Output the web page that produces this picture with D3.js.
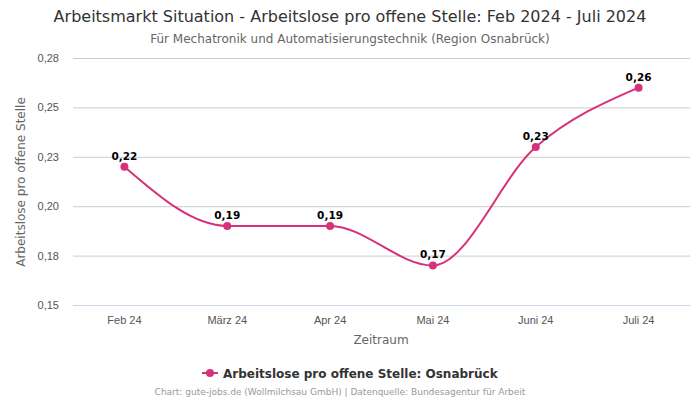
<!DOCTYPE html>
<html><head><meta charset="utf-8">
<script src="https://cdn.jsdelivr.net/npm/d3@7"></script>
<style>body{margin:0;background:#fff}svg{font-family:"DejaVu Sans",sans-serif}</style>
</head><body><svg id="c" width="700" height="400"></svg>
<script>
const categories = ["Feb 24","März 24","Apr 24","Mai 24","Juni 24","Juli 24"];
const values = [0.22, 0.19, 0.19, 0.17, 0.23, 0.26];
const yTicks = [0.15, 0.175, 0.2, 0.225, 0.25, 0.275];
const title = "Arbeitsmarkt Situation - Arbeitslose pro offene Stelle: Feb 2024 - Juli 2024";
const subtitle = "Für Mechatronik und Automatisierungstechnik (Region Osnabrück)";
const seriesName = "Arbeitslose pro offene Stelle: Osnabrück";
const color = "#d6317a";

const svg = d3.select("#c");
const m = {l:73, r:690, t:58, b:305};
const x = d3.scaleBand().domain(categories).range([m.l, m.r]);
const y = d3.scaleLinear().domain([0.15, 0.275]).range([m.b, m.t]);
const fmt = v => (Math.round(v*100 + 1e-6)/100).toFixed(2).replace(".", ",");

svg.append("text").attr("x",350).attr("y",22).attr("text-anchor","middle").attr("font-size",16).attr("fill","#333").text(title);
svg.append("text").attr("x",350).attr("y",43).attr("text-anchor","middle").attr("font-size",12).attr("fill","#666").text(subtitle);

const ya = svg.append("g").attr("transform",`translate(${m.l},0)`)
  .call(d3.axisLeft(y).tickValues(yTicks).tickSize(-(m.r-m.l)).tickFormat(fmt));
ya.select(".domain").remove();
ya.selectAll(".tick line").attr("stroke","#ccc");
ya.selectAll(".tick text").attr("x",-14).attr("font-size",11).attr("fill","#555");

const xa = svg.append("g").attr("transform",`translate(0,${m.b})`)
  .call(d3.axisBottom(x).tickSize(0).tickPadding(11));
xa.select(".domain").attr("stroke","#ccd6eb");
xa.selectAll(".tick text").attr("font-size",11).attr("fill","#555");

svg.append("text").attr("transform","translate(25,182) rotate(-90)").attr("text-anchor","middle").attr("font-size",12).attr("fill","#666").text("Arbeitslose pro offene Stelle");
svg.append("text").attr("x",381).attr("y",344).attr("text-anchor","middle").attr("font-size",12).attr("fill","#666").text("Zeitraum");

const pts = categories.map((c,i)=>[x(c)+x.bandwidth()/2, y(values[i])]);
svg.append("path").attr("d", d3.line().curve(d3.curveMonotoneX)(pts)).attr("fill","none").attr("stroke",color).attr("stroke-width",2);
svg.selectAll("circle.p").data(pts).join("circle").attr("class","p").attr("cx",d=>d[0]).attr("cy",d=>d[1]).attr("r",4).attr("fill",color);
svg.selectAll("text.l").data(pts).join("text").attr("class","l").attr("x",d=>d[0]).attr("y",d=>d[1]-7)
  .attr("text-anchor","middle").attr("font-size",10.5).attr("font-weight","bold").attr("fill","#000")
  .text((d,i)=>fmt(values[i]));

const lg = svg.append("g");
lg.append("line").attr("x1",202).attr("x2",218).attr("y1",373).attr("y2",373).attr("stroke",color).attr("stroke-width",2);
lg.append("circle").attr("cx",210).attr("cy",373).attr("r",4).attr("fill",color);
lg.append("text").attr("x",223).attr("y",377.5).attr("font-size",12).attr("font-weight","bold").attr("fill","#333").text(seriesName);

svg.append("text").attr("x",340).attr("y",395).attr("text-anchor","middle").attr("font-size",9).attr("fill","#999").text("Chart: gute-jobs.de (Wollmilchsau GmbH) | Datenquelle: Bundesagentur für Arbeit");
</script></body></html>
